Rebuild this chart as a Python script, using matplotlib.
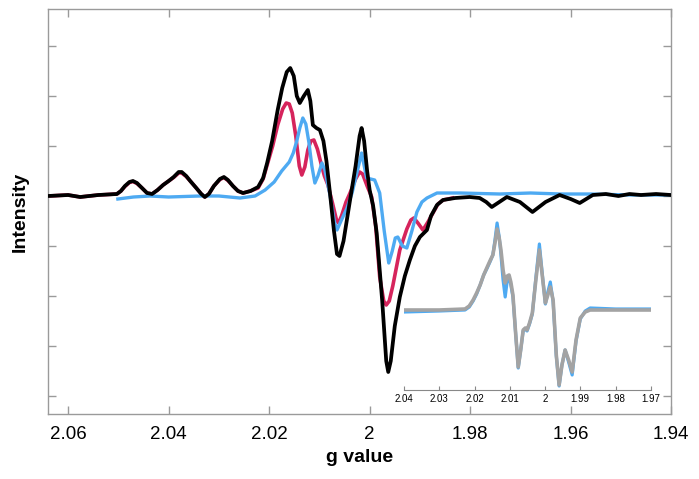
import matplotlib
matplotlib.use("Agg")
import matplotlib.pyplot as plt
from matplotlib.ticker import FuncFormatter

plt.rcParams["font.family"] = ["Liberation Sans", "DejaVu Sans"]

# main spectrum: g value vs intensity (arb. units)
black_g = [2.064, 2.0600, 2.0576, 2.0540, 2.0503, 2.0495, 2.0487, 2.0478, 2.0471, 2.0463,
           2.0453, 2.0443, 2.0433, 2.0422, 2.0411, 2.0400, 2.0390, 2.0380, 2.0374, 2.0365,
           2.0357, 2.0345, 2.0335, 2.0328, 2.0320, 2.0310, 2.0298, 2.0290, 2.0282, 2.0272,
           2.0262, 2.0252, 2.0237, 2.0222, 2.0212, 2.0204, 2.0194, 2.0183, 2.0174, 2.0165,
           2.0158, 2.0151, 2.0145, 2.0139, 2.0131, 2.0123, 2.0118, 2.0113, 2.0106, 2.0099,
           2.0092, 2.0086, 2.0079, 2.0071, 2.0065, 2.0060, 2.0052, 2.0039, 2.0028, 2.0020,
           2.0016, 2.0011, 2.0005, 2.0000, 1.9993, 1.9986, 1.9975, 1.9967, 1.9963, 1.9958,
           1.9950, 1.9940, 1.9930, 1.9920, 1.9910, 1.9900, 1.9886, 1.9878, 1.9866, 1.9854,
           1.9830, 1.9801, 1.9781, 1.9768, 1.9757, 1.9742, 1.9727, 1.9701, 1.9676, 1.9650,
           1.9622, 1.9600, 1.9582, 1.9556, 1.9530, 1.9505, 1.9483, 1.9460, 1.9430, 1.9401]
black_i = [0.0, 0.02, -0.02, 0.02, 0.04, 0.10, 0.20, 0.28, 0.30, 0.26,
           0.16, 0.06, 0.04, 0.12, 0.22, 0.30, 0.38, 0.48, 0.48, 0.40,
           0.30, 0.16, 0.04, -0.02, 0.04, 0.20, 0.34, 0.38, 0.32, 0.20,
           0.10, 0.06, 0.10, 0.18, 0.36, 0.66, 1.10, 1.72, 2.16, 2.48,
           2.56, 2.40, 2.00, 1.86, 2.00, 2.12, 1.90, 1.42, 1.36, 1.32,
           1.10, 0.70, 0.06, -0.70, -1.16, -1.20, -0.90, -0.08, 0.60, 1.20,
           1.36, 1.10, 0.50, 0.12, -0.20, -0.74, -2.10, -3.30, -3.52, -3.30,
           -2.60, -2.02, -1.60, -1.28, -1.00, -0.82, -0.68, -0.40, -0.18, -0.08,
           -0.04, -0.02, -0.04, -0.12, -0.22, -0.12, -0.02, -0.12, -0.32, -0.12,
           0.02, -0.06, -0.14, 0.02, 0.04, 0.0, 0.04, 0.02, 0.04, 0.02]

red_g = [2.064, 2.0600, 2.0576, 2.0540, 2.0503, 2.0495, 2.0487, 2.0478, 2.0471, 2.0463,
         2.0453, 2.0443, 2.0433, 2.0422, 2.0411, 2.0400, 2.0390, 2.0380, 2.0374, 2.0365,
         2.0357, 2.0345, 2.0335, 2.0328, 2.0320, 2.0310, 2.0298, 2.0290, 2.0282, 2.0272,
         2.0262, 2.0252, 2.0237, 2.0222, 2.0212, 2.0204, 2.0193, 2.0183, 2.0173, 2.0166,
         2.0160, 2.0154, 2.0147, 2.0140, 2.0135, 2.0129, 2.0123, 2.0117, 2.0111, 2.0104,
         2.0097, 2.0090, 2.0083, 2.0074, 2.0066, 2.0062, 2.0056, 2.0047, 2.0039, 2.0028,
         2.0020, 2.0014, 2.0005, 1.9996, 1.9988, 1.9980, 1.9972, 1.9967, 1.9961, 1.9954,
         1.9940, 1.9926, 1.9918, 1.9912, 1.9904, 1.9894, 1.9884, 1.9874, 1.9864, 1.9854,
         1.9835]
red_i = [0.0, 0.02, -0.02, 0.02, 0.04, 0.10, 0.19, 0.27, 0.29, 0.25,
         0.16, 0.06, 0.04, 0.12, 0.22, 0.30, 0.37, 0.46, 0.46, 0.39,
         0.30, 0.16, 0.04, -0.02, 0.04, 0.20, 0.33, 0.37, 0.31, 0.20,
         0.10, 0.06, 0.10, 0.16, 0.34, 0.62, 1.00, 1.42, 1.74, 1.86,
         1.84, 1.66, 1.20, 0.60, 0.42, 0.58, 0.92, 1.10, 1.12, 0.94,
         0.66, 0.40, 0.22, -0.14, -0.48, -0.54, -0.40, -0.12, 0.06, 0.34,
         0.48, 0.44, 0.20, -0.02, -0.60, -1.62, -2.10, -2.18, -2.10, -1.80,
         -1.08, -0.66, -0.48, -0.44, -0.54, -0.68, -0.52, -0.34, -0.16, -0.08,
         -0.04]

blue_g = [2.0501, 2.0470, 2.0437, 2.0400, 2.0338, 2.0300, 2.0258, 2.0228, 2.0208, 2.0190,
          2.0175, 2.0160, 2.0152, 2.0145, 2.0139, 2.0133, 2.0127, 2.0121, 2.0115, 2.0109,
          2.0103, 2.0095, 2.0089, 2.0079, 2.0070, 2.0065, 2.0057, 2.0045, 2.0035, 2.0025,
          2.0016, 2.0010, 2.0006, 1.9998, 1.9990, 1.9980, 1.9971, 1.9962, 1.9955, 1.9949,
          1.9944, 1.9935, 1.9926, 1.9916, 1.9906, 1.9896, 1.9886, 1.9866, 1.9820, 1.9741,
          1.9680, 1.9620, 1.9562, 1.9480, 1.9401]
blue_i = [-0.06, -0.02, 0.0, -0.02, 0.0, 0.0, -0.04, 0.0, 0.12, 0.28,
          0.50, 0.68, 0.86, 1.10, 1.36, 1.56, 1.44, 1.08, 0.60, 0.26,
          0.40, 0.66, 0.52, 0.02, -0.52, -0.68, -0.50, -0.24, 0.06, 0.48,
          0.86, 0.56, 0.36, 0.34, 0.32, 0.06, -0.70, -1.34, -1.10, -0.84,
          -0.82, -1.00, -1.04, -0.70, -0.32, -0.12, -0.04, 0.06, 0.06, 0.04,
          0.06, 0.04, 0.04, 0.02, 0.02]

# inset spectrum
inset_g = [2.0400, 2.0300, 2.0227, 2.0215, 2.0204, 2.0194, 2.0184, 2.0174, 2.0164, 2.0155,
           2.0148, 2.0142, 2.0136, 2.0130, 2.0125, 2.0119, 2.0113, 2.0107, 2.0102, 2.0097,
           2.0091, 2.0083, 2.0076, 2.0069, 2.0062, 2.0056, 2.0051, 2.0044, 2.0036, 2.0026,
           2.0016, 2.0008, 1.9999, 1.9992, 1.9985, 1.9977, 1.9968, 1.9960, 1.9952, 1.9943,
           1.9933, 1.9923, 1.9912, 1.9900, 1.9886, 1.9872, 1.9800, 1.9698]
inset_blue = [-0.04, -0.02, 0.0, 0.06, 0.18, 0.32, 0.50, 0.70, 0.84, 0.98,
              1.10, 1.40, 1.74, 1.46, 1.10, 0.60, 0.26, 0.60, 0.66, 0.50,
              0.26, -0.50, -1.16, -0.80, -0.42, -0.38, -0.42, -0.28, -0.08, 0.64,
              1.32, 0.74, 0.12, 0.36, 0.56, 0.16, -0.92, -1.52, -1.10, -0.80,
              -1.04, -1.30, -0.62, -0.18, -0.02, 0.04, 0.02, 0.02]
inset_gray = [0.0, 0.0, 0.02, 0.08, 0.20, 0.34, 0.50, 0.70, 0.86, 1.00,
              1.10, 1.34, 1.62, 1.44, 1.20, 0.80, 0.54, 0.68, 0.70, 0.56,
              0.30, -0.50, -1.14, -0.80, -0.40, -0.36, -0.40, -0.26, -0.06, 0.60,
              1.20, 0.70, 0.14, 0.30, 0.46, 0.20, -0.90, -1.50, -1.10, -0.80,
              -1.00, -1.24, -0.60, -0.16, -0.04, 0.0, 0.0, 0.0]

main_ticks = [2.06, 2.04, 2.02, 2.00, 1.98, 1.96, 1.94]
inset_ticks = [2.04, 2.03, 2.02, 2.01, 2.00, 1.99, 1.98, 1.97]

RED = "#d6245c"
BLUE = "#4eaaf2"
GRAY = "#a3a3a3"
AXC = "#9a9a9a"

fig = plt.figure(figsize=(6.99, 4.79), dpi=100)
ax = fig.add_axes([0.0687, 0.1357, 0.8915, 0.8455])

ax.plot(red_g, red_i, color=RED, lw=2.6, zorder=2, solid_joinstyle="round")
ax.plot(blue_g, blue_i, color=BLUE, lw=2.4, zorder=3, solid_joinstyle="round")
ax.plot(black_g, black_i, color="black", lw=2.7, zorder=4, solid_joinstyle="round")

ax.set_xlim(2.064, 1.94)
ax.set_ylim(-4.36, 3.74)
ax.set_xticks(main_ticks)
ax.xaxis.set_major_formatter(FuncFormatter(lambda v, _: f"{v:g}"))
ax.set_yticks([3, 2, 1, 0, -1, -2, -3, -4])
ax.set_yticklabels([])
ax.tick_params(direction="in", length=6, width=1, color=AXC, top=True, right=True,
               labelsize=13.5, pad=9)
for s in ax.spines.values():
    s.set_color(AXC)
    s.set_linewidth(1.0)
ax.set_xlabel("g value", fontsize=14, fontweight="bold", labelpad=4)
ax.set_ylabel("Intensity", fontsize=14, fontweight="bold", labelpad=5)

# inset
axi = fig.add_axes([0.578, 0.1858, 0.353, 0.3758])
axi.patch.set_alpha(0)
axi.plot(inset_g, inset_blue, color=BLUE, lw=2.3, solid_joinstyle="round")
axi.plot(inset_g, inset_gray, color=GRAY, lw=2.6, solid_joinstyle="round")
axi.set_xlim(2.04, 1.97)
axi.set_ylim(-1.6, 2.0)
axi.set_xticks(inset_ticks)
axi.xaxis.set_major_formatter(FuncFormatter(lambda v, _: f"{v:g}"))
axi.set_yticks([])
for k in ("top", "left", "right"):
    axi.spines[k].set_visible(False)
axi.spines["bottom"].set_color("#888888")
axi.spines["bottom"].set_linewidth(0.8)
axi.tick_params(axis="x", direction="in", length=3, width=0.8, color="#888888",
                labelsize=7, pad=3)

fig.savefig("out.png", dpi=100)
